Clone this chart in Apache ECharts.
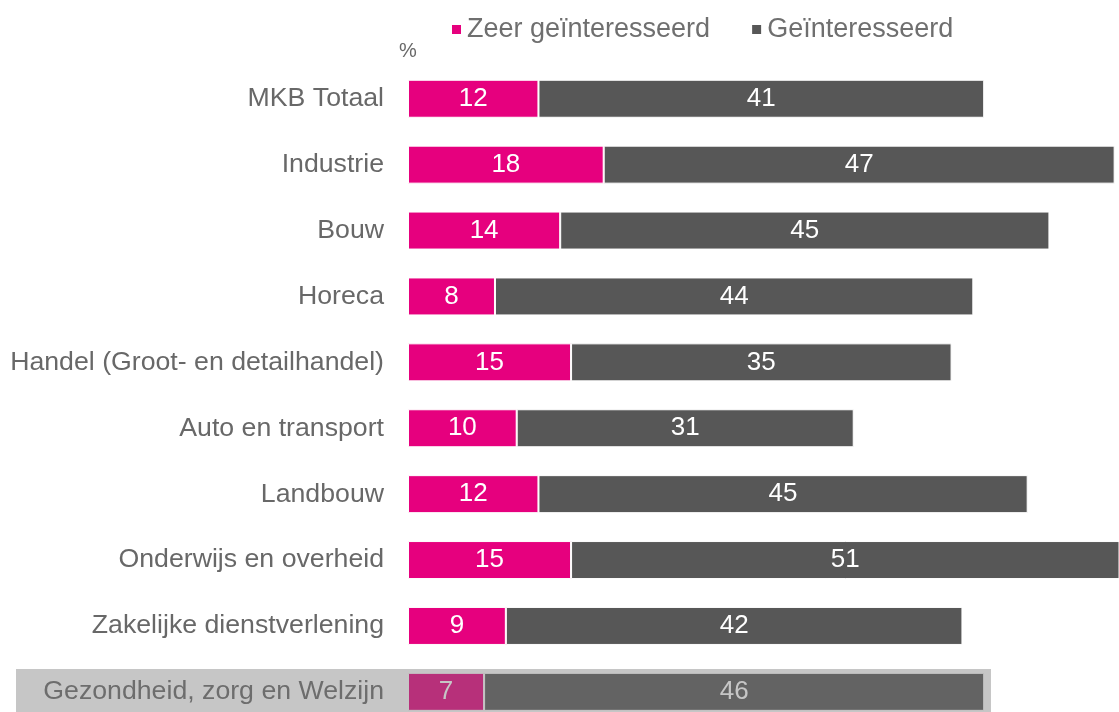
<!DOCTYPE html>
<html>
<head>
<meta charset="utf-8">
<script src="https://cdn.jsdelivr.net/npm/echarts@6/dist/echarts.min.js"></script>
<style>
  html, body { margin: 0; padding: 0; background: #fff; }
  #chart { width: 1119px; height: 712px; }
</style>
</head>
<body>
<div id="chart"></div>
<script>
var sectors = [
    'MKB Totaal',
    'Industrie',
    'Bouw',
    'Horeca',
    'Handel (Groot- en detailhandel)',
    'Auto en transport',
    'Landbouw',
    'Onderwijs en overheid',
    'Zakelijke dienstverlening',
    'Gezondheid, zorg en Welzijn'
];
var zeerGeinteresseerd = [12, 18, 14, 8, 15, 10, 12, 15, 9, 7];
var geinteresseerd = [41, 47, 45, 44, 35, 31, 45, 51, 42, 46];

var PINK = '#E6007E';
var DARK = '#575757';
var FONT = 'Liberation Sans, Arial, sans-serif';

var chart = echarts.init(document.getElementById('chart'));

chart.setOption({
    animation: false,
    textStyle: {fontFamily: FONT},
    legend: {
        left: 445,
        top: 11,
        icon: 'rect',
        itemWidth: 11,
        itemHeight: 11,
        itemGap: 40,
        textStyle: {fontSize: 27, color: '#6f6f6f', fontFamily: FONT},
        data: ['Zeer geïnteresseerd', 'Geïnteresseerd']
    },
    grid: {left: 408, right: 0, top: 65.8, height: 659, outerBoundsMode: 'none', containLabel: false},
    xAxis: {
        type: 'value',
        min: 0,
        max: 65.4,
        show: false
    },
    yAxis: {
        type: 'category',
        inverse: true,
        data: sectors,
        axisLine: {show: false},
        axisTick: {show: false},
        axisLabel: {
            margin: 24,
            fontSize: 26.7,
            color: '#686868',
            fontFamily: FONT
        }
    },
    graphic: [
        {
            type: 'text',
            left: 399,
            top: 41,
            style: {text: '%', fontSize: 20, fill: '#686868', fontFamily: FONT}
        },
        {
            // faded highlight over the last row
            type: 'rect',
            z: 100,
            shape: {x: 16, y: 669, width: 975, height: 50},
            style: {fill: 'rgba(117,117,117,0.41)'}
        }
    ],
    series: [
        {
            name: 'Zeer geïnteresseerd',
            type: 'bar',
            stack: 'total',
            barWidth: 38,
            data: zeerGeinteresseerd,
            itemStyle: {color: PINK, borderColor: '#fff', borderWidth: 1},
            label: {show: true, position: 'inside', color: '#fff', fontSize: 26, fontFamily: FONT}
        },
        {
            name: 'Geïnteresseerd',
            type: 'bar',
            stack: 'total',
            barWidth: 38,
            data: geinteresseerd,
            itemStyle: {color: DARK, borderColor: '#fff', borderWidth: 1},
            label: {show: true, position: 'inside', color: '#fff', fontSize: 26, fontFamily: FONT}
        }
    ]
});
</script>
</body>
</html>
